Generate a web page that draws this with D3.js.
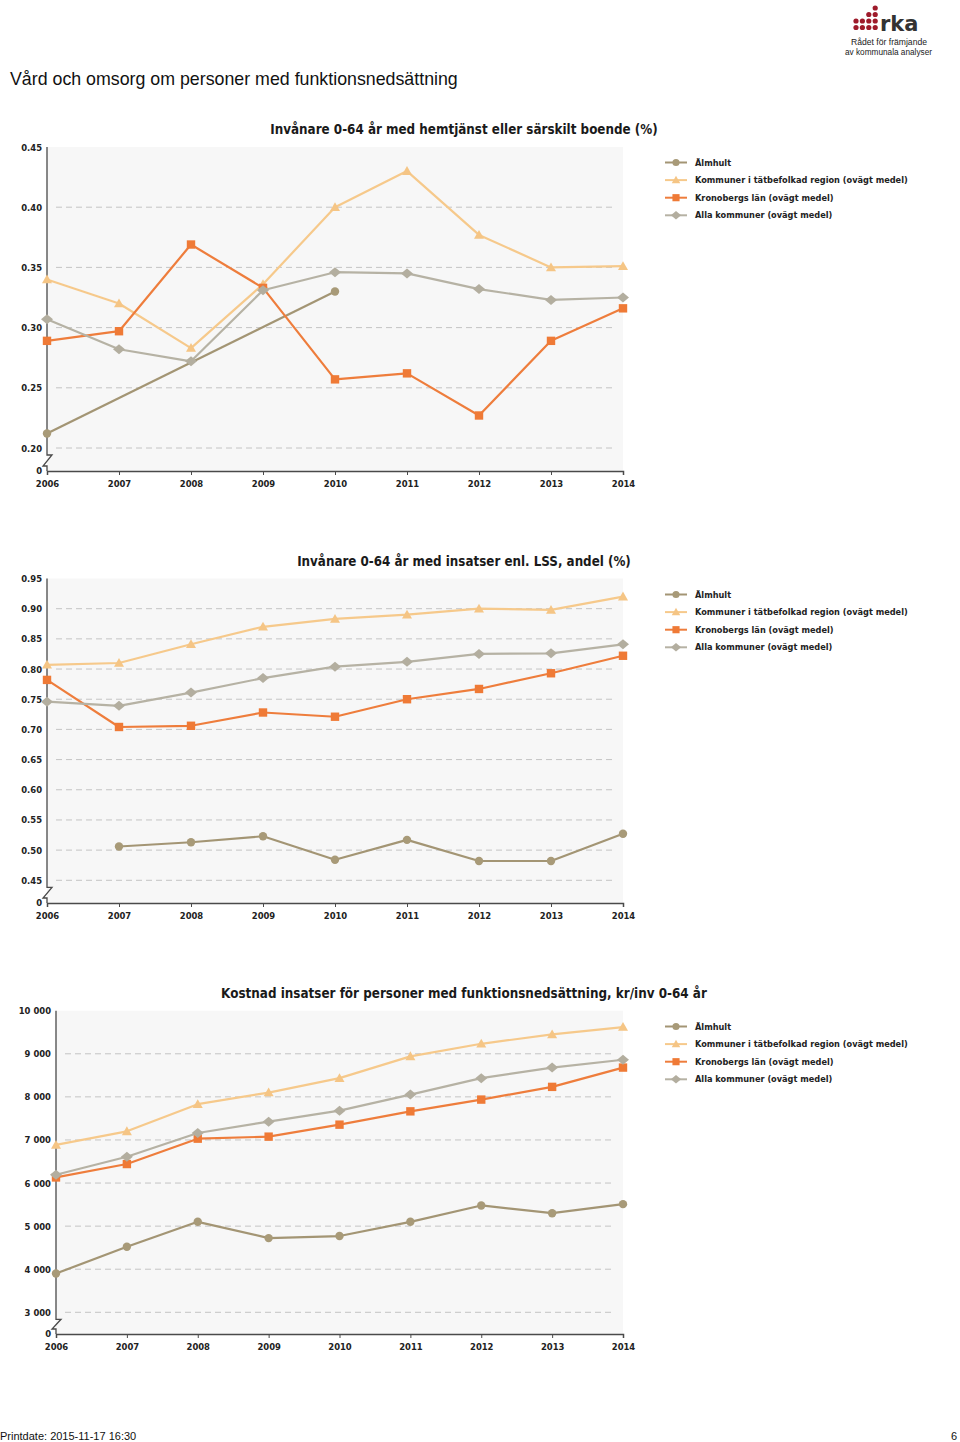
<!DOCTYPE html>
<html><head><meta charset="utf-8">
<script src="https://cdn.jsdelivr.net/npm/d3@7/dist/d3.min.js"></script>
<style>
html,body{margin:0;padding:0;background:#fff;}
svg{display:block;}
</style></head>
<body>
<svg id="c" width="960" height="1442"></svg>
<script>
// ---------- DATA ----------
const years = [2006, 2007, 2008, 2009, 2010, 2011, 2012, 2013, 2014];
const seriesNames = ["Älmhult", "Kommuner i tätbefolkad region (ovägt medel)", "Kronobergs län (ovägt medel)", "Alla kommuner (ovägt medel)"];

const c1Title = "Invånare 0-64 år med hemtjänst eller särskilt boende (%)";
const c1Almhult = [0.212, null, null, null, 0.330, null, null, null, null];
const c1Tat     = [0.340, 0.320, 0.283, 0.336, 0.400, 0.430, 0.377, 0.350, 0.351];
const c1Kron    = [0.289, 0.297, 0.369, 0.333, 0.257, 0.262, 0.227, 0.289, 0.316];
const c1Alla    = [0.307, 0.282, 0.272, 0.331, 0.346, 0.345, 0.332, 0.323, 0.325];
const c1Ticks   = [0.20, 0.25, 0.30, 0.35, 0.40, 0.45];

const c2Title = "Invånare 0-64 år med insatser enl. LSS, andel (%)";
const c2Almhult = [null, 0.506, 0.513, 0.523, 0.484, 0.517, 0.482, 0.482, 0.527];
const c2Tat     = [0.807, 0.810, 0.841, 0.870, 0.883, 0.890, 0.900, 0.898, 0.920];
const c2Kron    = [0.782, 0.704, 0.706, 0.728, 0.721, 0.750, 0.767, 0.793, 0.822];
const c2Alla    = [0.746, 0.739, 0.761, 0.785, 0.804, 0.812, 0.825, 0.826, 0.841];
const c2Ticks   = [0.45, 0.50, 0.55, 0.60, 0.65, 0.70, 0.75, 0.80, 0.85, 0.90, 0.95];

const c3Title = "Kostnad insatser för personer med funktionsnedsättning, kr/inv 0-64 år";
const c3Almhult = [3900, 4520, 5100, 4722, 4770, 5100, 5480, 5300, 5510];
const c3Tat     = [6884, 7200, 7831, 8100, 8434, 8940, 9232, 9450, 9620];
const c3Kron    = [6130, 6441, 7030, 7077, 7355, 7664, 7937, 8232, 8680];
const c3Alla    = [6193, 6610, 7162, 7425, 7680, 8053, 8434, 8680, 8861];
const c3Ticks   = [3000, 4000, 5000, 6000, 7000, 8000, 9000, 10000];

// ---------- STYLE ----------
const lineColors   = ["#a39574", "#f6c98b", "#ee7d3c", "#b6b2a4"];
const markerColors = ["#a89a78", "#f5c585", "#ef7a36", "#b3ae9f"];
const markerKinds  = ["circle", "triangle", "square", "diamond"];
const LF = "'DejaVu Sans Condensed','DejaVu Sans',sans-serif";

const svg = d3.select("#c");

function fitFont(sel, target) {
  const w = sel.node().getComputedTextLength();
  const fs = parseFloat(sel.attr("font-size"));
  sel.attr("font-size", (fs * target / w).toFixed(2));
}

function marker(g, kind, x, y, color, s) {
  s = s || 1;
  let p;
  if (kind === "circle") {
    return g.append("circle").attr("cx", x).attr("cy", y).attr("r", 4.2 * s).attr("fill", color);
  } else if (kind === "square") {
    const h = 4.2 * s;
    p = `M${x-h},${y-h}H${x+h}V${y+h}H${x-h}Z`;
  } else if (kind === "triangle") {
    p = `M${x},${y-5*s}L${x+5*s},${y+3.8*s}L${x-5*s},${y+3.8*s}Z`;
  } else {
    p = `M${x},${y-5*s}L${x+6*s},${y}L${x},${y+5*s}L${x-6*s},${y}Z`;
  }
  return g.append("path").attr("d", p).attr("fill", color);
}

function drawChart(cfg) {
  const g = svg.append("g");
  const x = d3.scaleLinear().domain([years[0], years[years.length-1]]).range([cfg.left, cfg.right]);
  const y = d3.scaleLinear().domain([cfg.ticks[0], cfg.ticks[cfg.ticks.length-1]]).range([cfg.minY, cfg.top]);

  // background
  g.append("rect").attr("x", cfg.left).attr("y", cfg.top)
    .attr("width", cfg.right - cfg.left).attr("height", cfg.axisY - cfg.top).attr("fill", "#f7f7f7");

  // grid
  g.selectAll(".grid").data(cfg.ticks.slice(0, -1)).enter().append("line")
    .attr("x1", cfg.left + 9).attr("x2", cfg.right - 8)
    .attr("y1", d => y(d)).attr("y2", d => y(d))
    .attr("stroke", "#c4c4c4").attr("stroke-width", 1).attr("stroke-dasharray", "6,4");

  // y axis with break
  const b1 = cfg.minY + 7, b2 = cfg.axisY - 5, L = cfg.left;
  g.append("path")
    .attr("d", `M${L},${cfg.top}V${b1}H${L+5}L${L-4},${b2}H${L}V${cfg.axisY}`)
    .attr("fill", "none").attr("stroke", "#4a4a4a").attr("stroke-width", 1.3);

  // x axis
  const xAxis = d3.axisBottom(x).tickValues(years).tickFormat(d3.format("d")).tickSize(4).tickPadding(5);
  const xa = g.append("g").attr("transform", `translate(0,${cfg.axisY})`).call(xAxis);
  xa.select(".domain").attr("stroke", "#4a4a4a").attr("stroke-width", 1.5);
  xa.selectAll(".tick line").attr("stroke", "#4a4a4a");
  xa.selectAll("text").attr("font-family", LF).attr("font-weight", "bold")
    .attr("font-size", 9.4).attr("fill", "#222");

  // y labels
  const yAxis = d3.axisLeft(y).tickValues(cfg.ticks).tickFormat(cfg.fmt).tickSize(0).tickPadding(5);
  const ya = g.append("g").attr("transform", `translate(${cfg.left},0)`).call(yAxis);
  ya.select(".domain").remove();
  ya.selectAll("text").attr("font-family", LF).attr("font-weight", "bold")
    .attr("font-size", 9.4).attr("fill", "#222");
  g.append("text").attr("x", cfg.left - 5).attr("y", cfg.axisY).attr("dy", "0.35em")
    .attr("text-anchor", "end").attr("font-family", LF).attr("font-weight", "bold")
    .attr("font-size", 9.4).attr("fill", "#222").text("0");

  // title
  const t = g.append("text").attr("x", cfg.titleX).attr("y", cfg.top - 13)
    .attr("text-anchor", "middle").attr("font-family", LF).attr("font-weight", "bold")
    .attr("font-size", 14).attr("fill", "#1a1a1a").text(cfg.title);
  fitFont(t, cfg.titleW);

  // series
  const line = d3.line().x(d => x(d.year)).y(d => y(d.v));
  cfg.series.forEach((vals, i) => {
    const pts = years.map((yr, k) => ({year: yr, v: vals[k]})).filter(d => d.v != null);
    g.append("path").datum(pts).attr("d", line).attr("fill", "none")
      .attr("stroke", lineColors[i]).attr("stroke-width", 2.2).attr("stroke-linejoin", "round");
    pts.forEach(d => marker(g, markerKinds[i], x(d.year), y(d.v), markerColors[i]));
  });

  // legend
  seriesNames.forEach((name, i) => {
    const ly = cfg.legendY + i * 17.6;
    g.append("line").attr("x1", 665).attr("x2", 687).attr("y1", ly).attr("y2", ly)
      .attr("stroke", lineColors[i]).attr("stroke-width", 2);
    marker(g, markerKinds[i], 676, ly, markerColors[i], 0.85);
    const tx = g.append("text").attr("x", 695).attr("y", ly).attr("dy", "0.35em")
      .attr("font-family", LF).attr("font-size", 10).attr("font-weight", "bold")
      .attr("fill", "#222").text(name);
    if (i === 1) fitFont(tx, 213);
  });
  const fs = g.selectAll("text").filter(function(){ return d3.select(this).text() === seriesNames[1]; }).attr("font-size");
  g.selectAll("text").filter(function(){ return seriesNames.includes(d3.select(this).text()); }).attr("font-size", fs);
}

const f2 = d3.format(".2f");
const loc = d3.formatLocale({decimal: ",", thousands: "\u00a0", grouping: [3], currency: ["", ""]});
const fK = loc.format(",");

drawChart({left: 47, right: 623, top: 147, minY: 448, axisY: 471, ticks: c1Ticks, fmt: f2,
  title: c1Title, titleX: 464, titleW: 388, legendY: 162.5, series: [c1Almhult, c1Tat, c1Kron, c1Alla]});
drawChart({left: 47, right: 623, top: 578.5, minY: 880.3, axisY: 903, ticks: c2Ticks, fmt: f2,
  title: c2Title, titleX: 464, titleW: 334, legendY: 594.5, series: [c2Almhult, c2Tat, c2Kron, c2Alla]});
drawChart({left: 56, right: 623, top: 1010.7, minY: 1312.3, axisY: 1334, ticks: c3Ticks, fmt: fK,
  title: c3Title, titleX: 464, titleW: 486, legendY: 1026.5, series: [c3Almhult, c3Tat, c3Kron, c3Alla]});

// ---------- PAGE TEXT ----------
const pt = svg.append("text").attr("x", 10).attr("y", 85)
  .attr("font-family", "'Liberation Sans',Arial,sans-serif").attr("font-size", 18)
  .attr("fill", "#111").text("Vård och omsorg om personer med funktionsnedsättning");
fitFont(pt, 448);

svg.append("text").attr("x", 0).attr("y", 1440)
  .attr("font-family", "'Liberation Sans',Arial,sans-serif").attr("font-size", 11)
  .attr("fill", "#111").text("Printdate: 2015-11-17 16:30");
svg.append("text").attr("x", 957).attr("y", 1440).attr("text-anchor", "end")
  .attr("font-family", "'Liberation Sans',Arial,sans-serif").attr("font-size", 11)
  .attr("fill", "#111").text("6");

// ---------- LOGO ----------
const logo = svg.append("g");
const dotRows = [[3], [2, 3], [0, 1, 2, 3], [0, 1, 2, 3]];
dotRows.forEach((cols, r) => cols.forEach(c => {
  logo.append("circle").attr("cx", 856 + c * 6.4).attr("cy", 8 + r * 6.5).attr("r", 2.6).attr("fill", "#9e1b2b");
}));
logo.append("text").attr("x", 880).attr("y", 31).attr("font-family", "'DejaVu Sans',sans-serif")
  .attr("font-weight", "bold").attr("font-size", 21).attr("fill", "#333").text("rka");
const l1 = logo.append("text").attr("x", 889).attr("y", 45).attr("text-anchor", "middle")
  .attr("font-family", "'Liberation Sans',Arial,sans-serif").attr("font-size", 8.5).attr("fill", "#222")
  .text("Rådet för främjande");
fitFont(l1, 76);
const l2 = logo.append("text").attr("x", 888.5).attr("y", 54.5).attr("text-anchor", "middle")
  .attr("font-family", "'Liberation Sans',Arial,sans-serif").attr("font-size", 8.5).attr("fill", "#222")
  .text("av kommunala analyser");
fitFont(l2, 87);
</script>
</body></html>
